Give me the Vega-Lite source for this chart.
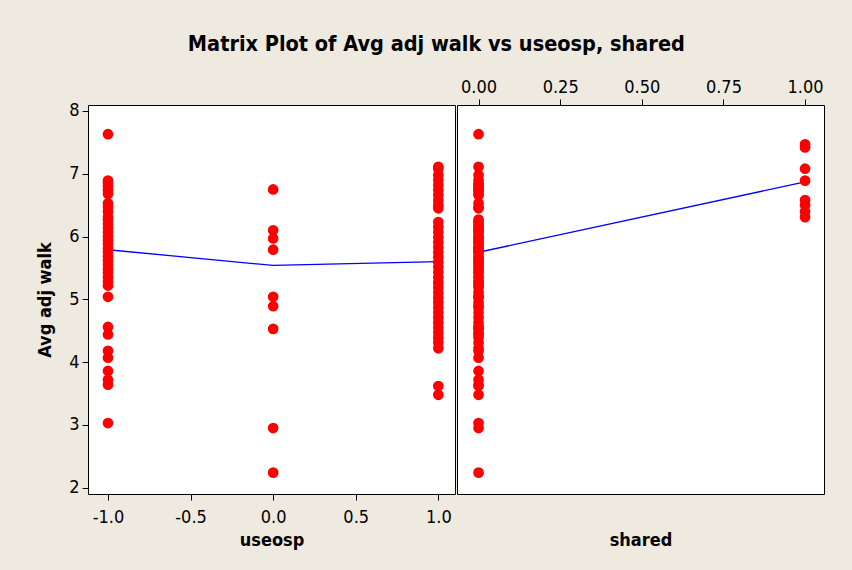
{
  "$schema": "https://vega.github.io/schema/vega-lite/v6.json",
  "padding": {"left": 36, "top": 34, "right": 30, "bottom": 25},
  "background": "#EEEAE0",
  "title": {
    "text": "Matrix Plot of Avg adj walk vs useosp, shared",
    "font": "DejaVu Sans Condensed",
    "fontSize": 21.5,
    "fontWeight": "bold",
    "color": "black",
    "anchor": "middle",
    "dx": 6,
    "offset": 22
  },
  "config": {
    "view": {"stroke": "black", "strokeWidth": 1, "fill": "white"},
    "concat": {"spacing": 0},
    "axis": {
      "grid": false,
      "domain": false,
      "tickColor": "black",
      "tickSize": 6,
      "tickWidth": 1,
      "labelFont": "DejaVu Sans Condensed",
      "labelFontSize": 18,
      "labelColor": "black",
      "labelPadding": 3,
      "titleFont": "DejaVu Sans Condensed",
      "titleFontSize": 18,
      "titleFontWeight": "bold",
      "titleColor": "black"
    }
  },
  "datasets": {
    "walk": [
      {"useosp": -1, "shared": 0, "walk": 7.63},
      {"useosp": -1, "shared": 1, "walk": 6.89},
      {"useosp": -1, "shared": 0, "walk": 6.85},
      {"useosp": -1, "shared": 0, "walk": 6.80},
      {"useosp": -1, "shared": 0, "walk": 6.74},
      {"useosp": -1, "shared": 0, "walk": 6.68},
      {"useosp": -1, "shared": 0, "walk": 6.53},
      {"useosp": -1, "shared": 0, "walk": 6.47},
      {"useosp": -1, "shared": 1, "walk": 6.40},
      {"useosp": -1, "shared": 1, "walk": 6.31},
      {"useosp": -1, "shared": 0, "walk": 6.27},
      {"useosp": -1, "shared": 0, "walk": 6.20},
      {"useosp": -1, "shared": 0, "walk": 6.14},
      {"useosp": -1, "shared": 0, "walk": 6.07},
      {"useosp": -1, "shared": 0, "walk": 6.00},
      {"useosp": -1, "shared": 0, "walk": 5.94},
      {"useosp": -1, "shared": 0, "walk": 5.88},
      {"useosp": -1, "shared": 0, "walk": 5.81},
      {"useosp": -1, "shared": 0, "walk": 5.75},
      {"useosp": -1, "shared": 0, "walk": 5.68},
      {"useosp": -1, "shared": 0, "walk": 5.62},
      {"useosp": -1, "shared": 0, "walk": 5.55},
      {"useosp": -1, "shared": 0, "walk": 5.48},
      {"useosp": -1, "shared": 0, "walk": 5.42},
      {"useosp": -1, "shared": 0, "walk": 5.35},
      {"useosp": -1, "shared": 0, "walk": 5.28},
      {"useosp": -1, "shared": 0, "walk": 5.22},
      {"useosp": -1, "shared": 0, "walk": 5.04},
      {"useosp": -1, "shared": 0, "walk": 4.56},
      {"useosp": -1, "shared": 0, "walk": 4.44},
      {"useosp": -1, "shared": 0, "walk": 4.18},
      {"useosp": -1, "shared": 0, "walk": 4.07},
      {"useosp": -1, "shared": 0, "walk": 3.86},
      {"useosp": -1, "shared": 0, "walk": 3.72},
      {"useosp": -1, "shared": 0, "walk": 3.64},
      {"useosp": -1, "shared": 0, "walk": 3.03},
      {"useosp": 0, "shared": 0, "walk": 6.75},
      {"useosp": 0, "shared": 0, "walk": 6.10},
      {"useosp": 0, "shared": 0, "walk": 5.97},
      {"useosp": 0, "shared": 0, "walk": 5.79},
      {"useosp": 0, "shared": 0, "walk": 5.04},
      {"useosp": 0, "shared": 0, "walk": 4.89},
      {"useosp": 0, "shared": 0, "walk": 4.53},
      {"useosp": 0, "shared": 0, "walk": 2.95},
      {"useosp": 0, "shared": 0, "walk": 2.24},
      {"useosp": 1, "shared": 0, "walk": 7.11},
      {"useosp": 1, "shared": 1, "walk": 7.08},
      {"useosp": 1, "shared": 0, "walk": 6.98},
      {"useosp": 1, "shared": 0, "walk": 6.90},
      {"useosp": 1, "shared": 0, "walk": 6.82},
      {"useosp": 1, "shared": 0, "walk": 6.74},
      {"useosp": 1, "shared": 0, "walk": 6.66},
      {"useosp": 1, "shared": 1, "walk": 6.58},
      {"useosp": 1, "shared": 1, "walk": 6.50},
      {"useosp": 1, "shared": 0, "walk": 6.45},
      {"useosp": 1, "shared": 0, "walk": 6.23},
      {"useosp": 1, "shared": 0, "walk": 6.15},
      {"useosp": 1, "shared": 0, "walk": 6.07},
      {"useosp": 1, "shared": 0, "walk": 5.99},
      {"useosp": 1, "shared": 0, "walk": 5.91},
      {"useosp": 1, "shared": 0, "walk": 5.83},
      {"useosp": 1, "shared": 0, "walk": 5.75},
      {"useosp": 1, "shared": 0, "walk": 5.67},
      {"useosp": 1, "shared": 0, "walk": 5.59},
      {"useosp": 1, "shared": 0, "walk": 5.51},
      {"useosp": 1, "shared": 0, "walk": 5.43},
      {"useosp": 1, "shared": 0, "walk": 5.35},
      {"useosp": 1, "shared": 0, "walk": 5.27},
      {"useosp": 1, "shared": 0, "walk": 5.19},
      {"useosp": 1, "shared": 0, "walk": 5.11},
      {"useosp": 1, "shared": 0, "walk": 5.03},
      {"useosp": 1, "shared": 0, "walk": 4.95},
      {"useosp": 1, "shared": 0, "walk": 4.87},
      {"useosp": 1, "shared": 0, "walk": 4.79},
      {"useosp": 1, "shared": 0, "walk": 4.71},
      {"useosp": 1, "shared": 0, "walk": 4.63},
      {"useosp": 1, "shared": 0, "walk": 4.55},
      {"useosp": 1, "shared": 0, "walk": 4.47},
      {"useosp": 1, "shared": 0, "walk": 4.39},
      {"useosp": 1, "shared": 0, "walk": 4.31},
      {"useosp": 1, "shared": 0, "walk": 4.22},
      {"useosp": 1, "shared": 0, "walk": 3.62},
      {"useosp": 1, "shared": 0, "walk": 3.48},
      {"useosp": null, "shared": 1, "walk": 7.47},
      {"useosp": null, "shared": 1, "walk": 7.42}
    ],
    "fitUseosp": [
      {"useosp": -1, "walk": 5.79},
      {"useosp": 0, "walk": 5.54},
      {"useosp": 1, "walk": 5.60}
    ],
    "fitShared": [
      {"shared": 0, "walk": 5.75},
      {"shared": 1, "walk": 6.87}
    ]
  },
  "hconcat": [
    {
      "width": 367,
      "height": 389,
      "layer": [
        {
          "data": {"name": "fitUseosp"},
          "mark": {"type": "line", "color": "#0000FF", "strokeWidth": 1.3},
          "encoding": {
            "x": {"field": "useosp", "type": "quantitative"},
            "y": {"field": "walk", "type": "quantitative"}
          }
        },
        {
          "data": {"name": "walk"},
          "mark": {"type": "point", "shape": "circle", "filled": true, "color": "#FF0000", "opacity": 1, "size": 115},
          "encoding": {
            "x": {"field": "useosp", "type": "quantitative"},
            "y": {"field": "walk", "type": "quantitative"}
          }
        }
      ],
      "encoding": {
        "x": {
          "field": "useosp",
          "type": "quantitative",
          "scale": {"domain": [-1.121, 1.101], "nice": false, "zero": false},
          "axis": {"values": [-1, -0.5, 0, 0.5, 1], "labelExpr": "replace(format(datum.value, '.1f'), '\u2212', '-')", "labelPadding": 8, "title": "useosp", "orient": "bottom", "titleBaseline": "top", "titleY": 37}
        },
        "y": {
          "field": "walk",
          "type": "quantitative",
          "scale": {"domain": [1.9, 8.095], "nice": false, "zero": false},
          "axis": {"values": [2, 3, 4, 5, 6, 7, 8], "format": "d", "title": "Avg adj walk", "titlePadding": 14}
        }
      }
    },
    {
      "width": 367,
      "height": 389,
      "layer": [
        {
          "data": {"name": "fitShared"},
          "mark": {"type": "line", "color": "#0000FF", "strokeWidth": 1.3},
          "encoding": {
            "x": {"field": "shared", "type": "quantitative"},
            "y": {"field": "walk", "type": "quantitative"}
          }
        },
        {
          "data": {"name": "walk"},
          "mark": {"type": "point", "shape": "circle", "filled": true, "color": "#FF0000", "opacity": 1, "size": 115},
          "encoding": {
            "x": {"field": "shared", "type": "quantitative"},
            "y": {"field": "walk", "type": "quantitative"}
          }
        }
      ],
      "encoding": {
        "x": {
          "field": "shared",
          "type": "quantitative",
          "scale": {"domain": [-0.066, 1.058], "nice": false, "zero": false},
          "axis": {"values": [0, 0.25, 0.5, 0.75, 1], "format": ".2f", "title": "shared", "orient": "top", "titleX": 183.5, "titleY": 426, "titleBaseline": "top", "titleAlign": "center"}
        },
        "y": {
          "field": "walk",
          "type": "quantitative",
          "scale": {"domain": [1.9, 8.095], "nice": false, "zero": false},
          "axis": null
        }
      }
    }
  ]
}
